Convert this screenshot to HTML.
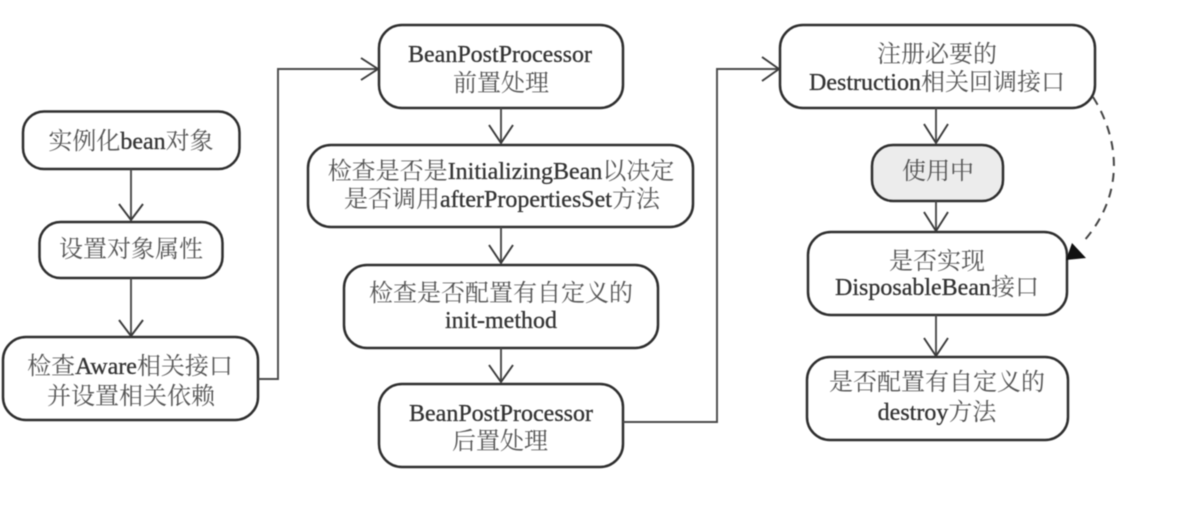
<!DOCTYPE html>
<html>
<head>
<meta charset="utf-8">
<style>
html,body{margin:0;padding:0;background:#fff;width:1181px;height:514px;overflow:hidden}
svg{display:block;filter:blur(0.55px)}
rect{fill:#fff;stroke:#2e2e2e;stroke-width:2.5}
.l{fill:none;stroke:#4a4a4a;stroke-width:1.9}
.a{fill:none;stroke:#3a3a3a;stroke-width:1.9}
text{font-family:"Liberation Serif","Noto Serif CJK SC",serif;font-size:24px;fill:#555;text-anchor:middle}
tspan{fill:#333;stroke:#333;stroke-width:0.3}
</style>
</head>
<body>
<svg width="1181" height="514" viewBox="0 0 1181 514" xmlns="http://www.w3.org/2000/svg">
<rect x="23" y="111.500" width="216.500" height="57.500" rx="21"/>
<rect x="39.500" y="222" width="183" height="56" rx="21"/>
<rect x="3" y="337" width="255" height="83" rx="23"/>
<rect x="379" y="25" width="244" height="83" rx="23"/>
<rect x="308" y="145" width="385" height="82" rx="23"/>
<rect x="344" y="265" width="314" height="83" rx="23"/>
<rect x="379" y="384" width="244" height="83" rx="23"/>
<rect x="780" y="25" width="315" height="83" rx="23"/>
<rect x="872" y="145" width="131" height="56" rx="21" style="fill:#ececec"/>
<rect x="808" y="232" width="259" height="83" rx="23"/>
<rect x="807" y="357" width="261" height="83" rx="23"/>

<path class="l" d="M131 169V220M131 278V335M258 379H278V69H377M501 108V143M501 227V263M501 348V382M623 422H717V69H778M936 108V143M936 201V230M936 315V355"/>
<path class="a" d="M119 204L131 220L143 204M119 320L131 336L143 320M361 58L378 69L361 80M489 125L501 143L513 125M489 245L501 263L513 245M489 365L501 382L513 365M762 57L779 69L762 81M924 124L936 143L948 124M924 212L936 231L948 212M924 338L936 356L948 338"/>
<path d="M1093 97C1120 140 1125 195 1083 242" fill="none" stroke="#444" stroke-width="2" stroke-dasharray="9 7"/>
<path d="M1086 258L1066 260L1072 243Z" fill="#111"/>

<text x="131" y="149">实例化<tspan>bean</tspan>对象</text>
<text x="131" y="257">设置对象属性</text>
<text x="130" y="374">检查<tspan>Aware</tspan>相关接口</text>
<text x="131" y="404">并设置相关依赖</text>
<text x="500" y="62"><tspan>BeanPostProcessor</tspan></text>
<text x="501" y="91">前置处理</text>
<text x="501" y="179">检查是否是<tspan>InitializingBean</tspan>以决定</text>
<text x="502" y="207">是否调用<tspan>afterPropertiesSet</tspan>方法</text>
<text x="501" y="301">检查是否配置有自定义的</text>
<text x="501" y="328"><tspan>init-method</tspan></text>
<text x="501" y="421"><tspan>BeanPostProcessor</tspan></text>
<text x="500" y="449">后置处理</text>
<text x="937" y="62">注册必要的</text>
<text x="937" y="90"><tspan>Destruction</tspan>相关回调接口</text>
<text x="938" y="179">使用中</text>
<text x="937" y="269">是否实现</text>
<text x="937" y="295"><tspan>DisposableBean</tspan>接口</text>
<text x="937" y="390">是否配置有自定义的</text>
<text x="937" y="420"><tspan>destroy</tspan>方法</text>
</svg>
</body>
</html>
